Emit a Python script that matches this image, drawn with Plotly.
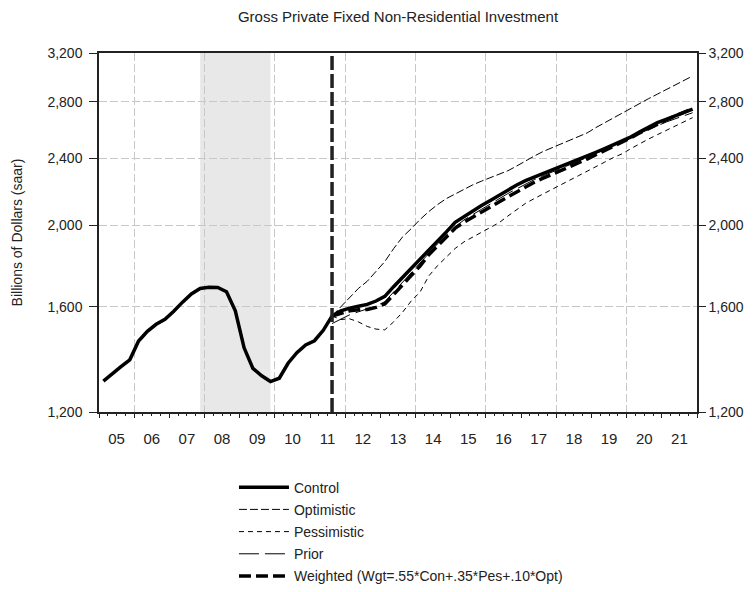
import plotly.graph_objects as go
import math

# ---------------- data ----------------
hist_start_year = 2005
fcst_start = (2011, 3)

control = [1306, 1330, 1358, 1384, 1457, 1496, 1525, 1546, 1580, 1620, 1657, 1682,
           1687, 1686, 1667, 1582, 1430, 1352, 1325, 1304, 1316, 1371, 1411, 1441,
           1458, 1500,
           1560, 1582, 1594, 1602, 1610, 1625, 1646, 1690, 1732, 1775,
           1822, 1868, 1914, 1963, 2015, 2047, 2079, 2109,
           2139, 2170, 2200, 2231, 2258, 2280, 2302, 2322,
           2343, 2365, 2388, 2414, 2440, 2465, 2490, 2515,
           2545, 2580, 2612, 2645, 2670, 2695, 2720, 2745]

optimistic = [1560, 1600, 1640, 1682, 1715, 1760, 1810, 1875, 1935, 1980,
              2030, 2075, 2115, 2150, 2178, 2205, 2232, 2255,
              2275, 2295, 2320, 2350, 2385, 2415, 2445, 2470,
              2495, 2520, 2545, 2572, 2610, 2645, 2680, 2715,
              2755, 2790, 2825, 2860, 2895, 2935, 2970, 3005]

pessimistic = [1560, 1545, 1548, 1535, 1516, 1505, 1502, 1535, 1575, 1625,
               1665, 1740, 1790, 1835, 1876, 1910, 1935, 1960,
               1985, 2013, 2050, 2085, 2122, 2150, 2178, 2205,
               2232, 2260, 2288, 2315, 2345, 2375, 2405, 2430,
               2465, 2500, 2530, 2560, 2590, 2622, 2652, 2682]

prior = [1528, 1548, 1565, 1578, 1590, 1603, 1622, 1665, 1710, 1755,
         1802, 1852, 1900, 1945, 1990, 2028, 2060, 2088,
         2118, 2150, 2180, 2208, 2238, 2264, 2288, 2310,
         2332, 2355, 2379, 2405, 2432, 2458, 2484, 2510,
         2540, 2570, 2598, 2625, 2650, 2673, 2695, 2718]

weighted = [1560, 1571, 1582, 1587, 1588, 1597, 1612, 1654, 1697, 1743,
            1788, 1844, 1891, 1935, 1983, 2015, 2044, 2071,
            2099, 2129, 2160, 2189, 2221, 2248, 2273, 2296,
            2319, 2344, 2369, 2395, 2424, 2452, 2479, 2505,
            2538, 2573, 2605, 2637, 2665, 2693, 2721, 2749]

year_labels = ["05", "06", "07", "08", "09", "10", "11", "12", "13", "14",
               "15", "16", "17", "18", "19", "20", "21"]
y_ticks = [1200, 1600, 2000, 2400, 2800, 3200]
recession = ((2007, 4), (2009, 4))

# ---------------- helpers ----------------
def qpos(year, q):
    return year + (q - 0.5) / 4.0

def quarter_series(start_year, start_q, n):
    xs = []
    y, q = start_year, start_q
    for _ in range(n):
        xs.append(qpos(y, q))
        q += 1
        if q > 4:
            q = 1
            y += 1
    return xs

x_control = quarter_series(hist_start_year, 1, len(control))
x_fc = quarter_series(fcst_start[0], fcst_start[1], len(optimistic))

FONT = "Liberation Sans, Arial, sans-serif"
DARK = "#222222"
GRID = "#c8c8c8"

# page has an 8px body margin; figure is sized to fit the window
W, H = 745, 584

fig = go.Figure()
fig.add_trace(go.Scatter(x=x_control, y=control, name="Control", mode="lines",
                         legendgroup="a",
                         line=dict(color="black", width=3.5)))
fig.add_trace(go.Scatter(x=x_fc, y=optimistic, name="Optimistic", mode="lines",
                         legendgroup="b",
                         line=dict(color="black", width=1, dash="8px,3px")))
fig.add_trace(go.Scatter(x=x_fc, y=pessimistic, name="Pessimistic", mode="lines",
                         legendgroup="c",
                         line=dict(color="black", width=1, dash="5px,4px")))
fig.add_trace(go.Scatter(x=x_fc, y=prior, name="Prior", mode="lines",
                         legendgroup="d", xaxis="x2", yaxis="y2",
                         line=dict(color="black", width=1, dash="20px,6px")))
fig.add_trace(go.Scatter(x=x_fc, y=weighted, name="Weighted (Wgt=.55*Con+.35*Pes+.10*Opt)",
                         legendgroup="e",
                         mode="lines", line=dict(color="black", width=3.5, dash="12px,5px")))

years = list(range(2005, 2022))
yr0, yr1 = math.log10(1200), math.log10(3200)

# recession shading
fig.add_shape(type="rect", xref="x", yref="paper",
              x0=qpos(*recession[0]), x1=qpos(*recession[1]), y0=0, y1=1,
              fillcolor="#e8e8e8", line=dict(width=0), layer="below")
# forecast start line
fig.add_shape(type="line", xref="x", yref="paper",
              x0=qpos(*fcst_start), x1=qpos(*fcst_start), y0=0, y1=1,
              line=dict(color=DARK, width=3.5, dash="14px,4px"), layer="above")

fig.update_layout(
    width=W, height=H,
    margin=dict(l=91, r=56, t=45, b=180, autoexpand=False),
    paper_bgcolor="white", plot_bgcolor="white",
    font=dict(family=FONT, size=14, color=DARK),
    title=dict(text="Gross Private Fixed Non-Residential Investment",
               x=390 / W, xanchor="center", y=1 - 9 / H, yanchor="middle",
               font=dict(family=FONT, size=15, color=DARK)),
    showlegend=True,
    legend=dict(x=0.2257, xanchor="left", y=-0.166, yanchor="top",
                font=dict(family=FONT, size=14, color=DARK),
                bgcolor="rgba(0,0,0,0)", itemwidth=50, tracegroupgap=1),
    xaxis=dict(range=[2005, 2022], tickmode="array",
               tickvals=[y + 0.5 for y in years], ticktext=year_labels,
               ticks="outside", ticklen=12, tickcolor="rgba(0,0,0,0)",
               showgrid=False, zeroline=False,
               showline=True, linecolor=DARK, linewidth=1.5, mirror=True,
               minor=dict(tickmode="array", tickvals=[2006, 2008, 2010, 2012, 2014, 2016, 2018, 2020],
                          showgrid=True, gridcolor=GRID, griddash="8px,3px", gridwidth=1,
                          ticks=""),
               tickfont=dict(size=15)),
    xaxis2=dict(range=[2005, 2022], overlaying="x", anchor="y", side="bottom",
                tickmode="array", tickvals=list(range(2005, 2023)),
                ticks="outside", ticklen=5, tickwidth=1, tickcolor=DARK,
                showticklabels=False, showgrid=False, zeroline=False, showline=False,
                minor=dict(tickmode="linear", tick0=2005, dtick=0.25, ticks="outside",
                           ticklen=3, tickwidth=1, tickcolor=DARK, showgrid=False)),
    yaxis=dict(type="log", range=[yr0, yr1], tickmode="array", tickvals=y_ticks,
               ticktext=[f"{v:,}" for v in y_ticks],
               ticks="outside", ticklen=8, tickcolor=DARK, ticklabelstandoff=4,
               showgrid=True, gridcolor=GRID, griddash="8px,3px", gridwidth=1,
               zeroline=False, showline=True, linecolor=DARK, linewidth=1.5,
               title=dict(text="Billions of Dollars (saar)", standoff=22,
                          font=dict(family=FONT, size=14, color=DARK)),
               tickfont=dict(size=14)),
    yaxis2=dict(type="log", range=[yr0, yr1], overlaying="y", side="right", anchor="x",
                tickmode="array", tickvals=y_ticks, ticktext=[f"{v:,}" for v in y_ticks],
                ticks="outside", ticklen=7, tickcolor=DARK,
                showgrid=False, zeroline=False, showline=True, linecolor=DARK, linewidth=1.5,
                tickfont=dict(size=14)),
)

fig.write_html("out.html")
